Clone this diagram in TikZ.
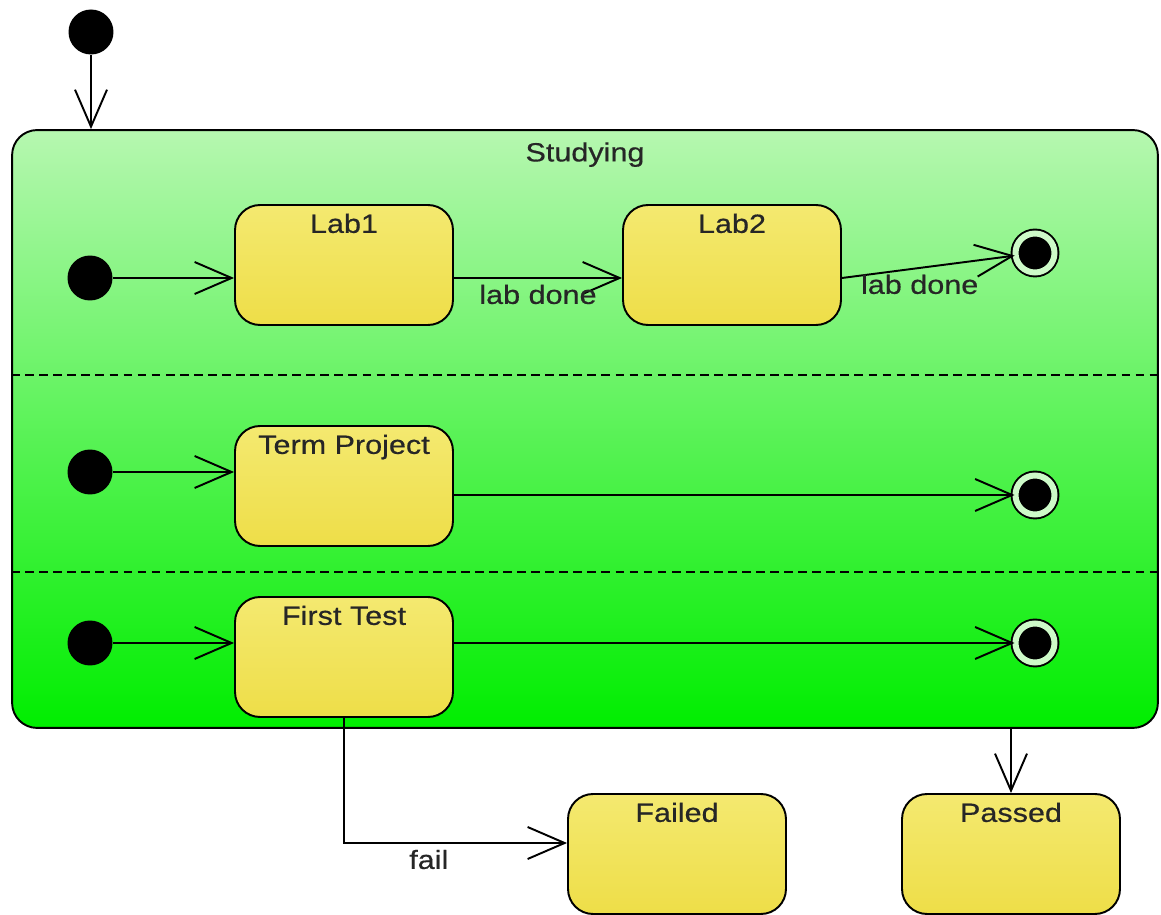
\documentclass[tikz,border=0pt]{standalone}
\usepackage{fontspec}
\setmainfont[FakeStretch=1.16, FakeBold=0.5]{Liberation Sans}
\usetikzlibrary{arrows.meta, positioning}

\definecolor{studyTop}{RGB}{182,247,176}
\definecolor{studyBottom}{RGB}{0,238,0}
\definecolor{boxTop}{RGB}{244,233,112}
\definecolor{boxBottom}{RGB}{238,222,72}
\definecolor{ringGap}{RGB}{205,250,200}

\tikzset{
  label_font/.style = {font=\fontsize{15}{17}\selectfont, text=black!85},
  line_width/.style = {line width=1.1pt}
}
\tikzset{
  composite/.style = {line_width, draw, rounded corners=0.5cm,
    minimum width=22.92cm, minimum height=11.96cm,
    top color=studyTop, bottom color=studyBottom},
  state_box/.style = {line_width, draw, rounded corners=0.5cm,
    minimum width=4.36cm, minimum height=2.4cm,
    top color=boxTop, bottom color=boxBottom},
  box_title/.style = {label_font, anchor=north, yshift=-2pt},
  init_dot/.style = {circle, fill=black, inner sep=0, minimum size=0.9cm},
  final_dot/.style = {circle, fill=black, draw=black, line width=1.1pt,
    double=ringGap, double distance=0.12cm, inner sep=0, minimum size=0.78cm},
  flow/.style = {line_width, -{Straight Barb[length=7.4mm, width=6.4mm, line width=1.1pt]}},
  edge_label/.style = {label_font},
  lane_sep/.style = {line width=0.8pt, dash pattern=on 5pt off 3pt}
}

\begin{document}
\begin{tikzpicture}[x=0.02cm, y=-0.02cm]
    \useasboundingbox (0,0) rectangle (1161,915);

    % Composite state
    \node[composite, label={[box_title, yshift=-2pt]north:Studying}] at (585,429) (studying) {};
    \draw[lane_sep] (studying.west |- 0,375) -- (studying.east |- 0,375);
    \draw[lane_sep] (studying.west |- 0,572) -- (studying.east |- 0,572);

    % Initial and final pseudostates
    \node[init_dot] at (91,32) (start) {};
    \node[init_dot] at (90,278) (init_1) {};
    \node[init_dot] at (90,472) (init_2) {};
    \node[init_dot] at (90,643) (init_3) {};
    \node[final_dot] at (1035,253) (final_1) {};
    \node[final_dot] at (1035,495) (final_2) {};
    \node[final_dot] at (1035,643) (final_3) {};

    % States
    \node[state_box, label={[box_title]north:Lab1}] at (344,265) (lab1) {};
    \node[state_box, label={[box_title]north:Lab2}] at (732,265) (lab2) {};
    \node[state_box, label={[box_title]north:Term Project}] at (344,486) (term) {};
    \node[state_box, label={[box_title]north:First Test}] at (344,657) (first) {};
    \node[state_box, label={[box_title]north:Failed}] at (677,854) (failed) {};
    \node[state_box, label={[box_title]north:Passed}] at (1011,854) (passed) {};

    % Transitions
    \draw[flow] (start) -- (start |- studying.north);
    \draw[flow] (init_1) -- (init_1 -| lab1.west);
    \draw[flow] (lab1.east |- init_1) -- node[edge_label, below] {lab done} (lab2.west |- init_1);
    \draw[flow] (lab2.east |- init_1) -- node[edge_label, below, pos=0.45] {lab done} (final_1);
    \draw[flow] (init_2) -- (init_2 -| term.west);
    \draw[flow] (final_2 -| term.east) -- (final_2);
    \draw[flow] (init_3) -- (init_3 -| first.west);
    \draw[flow] (final_3 -| first.east) -- (final_3);
    \draw[flow] (first.south) |- node[edge_label, below, pos=0.69] {fail} ([yshift=0.22cm]failed.west);
    \draw[flow] (passed.north |- studying.south) -- (passed.north);
\end{tikzpicture}
\end{document}
